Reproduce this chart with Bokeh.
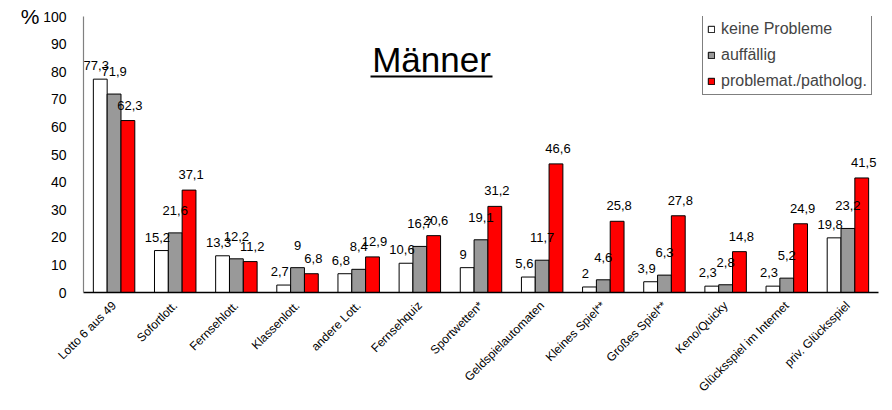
import math
from bokeh.plotting import figure
from bokeh.models import (ColumnDataSource, FactorRange, Range1d, Label, BoxAnnotation,
                          Legend, LegendItem, FixedTicker, LinearAxis)
from bokeh.transform import dodge
from bokeh.core.properties import value
from bokeh.embed import file_html
from bokeh.resources import INLINE

categories = ["Lotto 6 aus 49", "Sofortlott.", "Fernsehlott.", "Klassenlott.", "andere Lott.",
              "Fernsehquiz", "Sportwetten*", "Geldspielautomaten", "Kleines Spiel**",
              "Großes Spiel**", "Keno/Quicky", "Glücksspiel im Internet", "priv. Glücksspiel"]
keine_probleme = [77.3, 15.2, 13.3, 2.7, 6.8, 10.6, 9, 5.6, 2, 3.9, 2.3, 2.3, 19.8]
auffaellig = [71.9, 21.6, 12.2, 9, 8.4, 16.7, 19.1, 11.7, 4.6, 6.3, 2.8, 5.2, 23.2]
problematisch = [62.3, 37.1, 11.2, 6.8, 12.9, 20.6, 31.2, 46.6, 25.8, 27.8, 14.8, 24.9, 41.5]
series_names = ["keine Probleme", "auffällig", "problemat./patholog."]
y_ticks = [0, 10, 20, 30, 40, 50, 60, 70, 80, 90, 100]
title_text = "Männer"
y_unit = "%"

FONT = "Liberation Sans"


def fmt(v):
    return f"{v:g}".replace(".", ",")


p = figure(x_range=FactorRange(factors=categories, range_padding=0),
           y_range=Range1d(0, 100),
           width=884, height=402,
           output_backend="svg", toolbar_location=None,
           min_border_left=83, min_border_right=6, min_border_top=16, min_border_bottom=109)
p.outline_line_color = None
p.xgrid.grid_line_color = None
p.ygrid.grid_line_color = None
p.background_fill_color = "white"
p.border_fill_color = "white"

bw = 0.226
offsets = [-bw, 0.0, bw]
colors = ["#FFFFFF", "#999999", "#FF0000"]
series = [keine_probleme, auffaellig, problematisch]
label_dx = [-4, 0, 2]
label_dy = [-9, -18, -11]

sources = [ColumnDataSource(dict(cat=categories, val=vals, lab=[fmt(v) for v in vals]))
           for vals in series]

renderers = []
for src, off, col in zip(sources, offsets, colors):
    r = p.vbar(x=dodge("cat", off, range=p.x_range), top="val", width=bw, source=src,
               fill_color=col, line_color="black", line_width=1)
    renderers.append(r)

for src, off, dx, dy in zip(sources, offsets, label_dx, label_dy):
    p.text(x=dodge("cat", off, range=p.x_range), y="val", text="lab", source=src,
           text_align="center", text_baseline="bottom", x_offset=dx, y_offset=dy,
           text_font=value(FONT), text_font_size="13px", text_color="black")

# axes
p.yaxis.ticker = FixedTicker(ticks=y_ticks)
p.yaxis.major_label_text_font = FONT
p.yaxis.major_label_text_font_size = "14px"
p.yaxis.major_label_text_color = "black"
p.yaxis.major_tick_line_color = None
p.yaxis.minor_tick_line_color = None
p.yaxis.axis_line_color = "#808080"
p.yaxis.axis_line_width = 1.2
p.yaxis.major_label_standoff = 11

# unit "%" shown as a second, line-less axis at the top of the value scale
unit_axis = LinearAxis(ticker=FixedTicker(ticks=[y_ticks[-1]]),
                       major_label_overrides={y_ticks[-1]: y_unit})
unit_axis.major_label_text_font = FONT
unit_axis.major_label_text_font_size = "21px"
unit_axis.major_label_text_color = "black"
unit_axis.major_tick_line_color = None
unit_axis.minor_tick_line_color = None
unit_axis.axis_line_color = None
unit_axis.major_label_standoff = -5
p.add_layout(unit_axis, "left")

p.xaxis.major_label_orientation = math.pi / 4
p.xaxis.major_label_text_font = FONT
p.xaxis.major_label_text_font_size = "12px"
p.xaxis.major_label_text_color = "black"
p.xaxis.major_tick_line_color = None
p.xaxis.minor_tick_line_color = None
p.xaxis.axis_line_color = "black"
p.xaxis.axis_line_width = 1.5
p.xaxis.major_label_standoff = 5

# legend
legend = Legend(items=[LegendItem(label=n, renderers=[r]) for n, r in zip(series_names, renderers)],
                location=(619, 197))
legend.border_line_color = "black"
legend.border_line_width = 1
legend.background_fill_color = "white"
legend.background_fill_alpha = 1
legend.glyph_width = 8
legend.glyph_height = 8
legend.label_text_font = FONT
legend.label_text_font_size = "16px"
legend.label_standoff = 6
legend.spacing = 7
legend.padding = 4
legend.margin = 0
legend.label_height = 19
p.add_layout(legend)

# title and underline
p.add_layout(Label(x=348, y=233, x_units="screen", y_units="screen", text=title_text,
                   text_align="center", text_baseline="middle",
                   text_font=FONT, text_font_size="35px", text_color="black"))
p.add_layout(BoxAnnotation(left=287, right=409, bottom=215, top=217,
                           left_units="screen", right_units="screen",
                           bottom_units="screen", top_units="screen",
                           fill_color="black", fill_alpha=1, line_color=None))

open("out.html", "w").write(file_html(p, INLINE))
